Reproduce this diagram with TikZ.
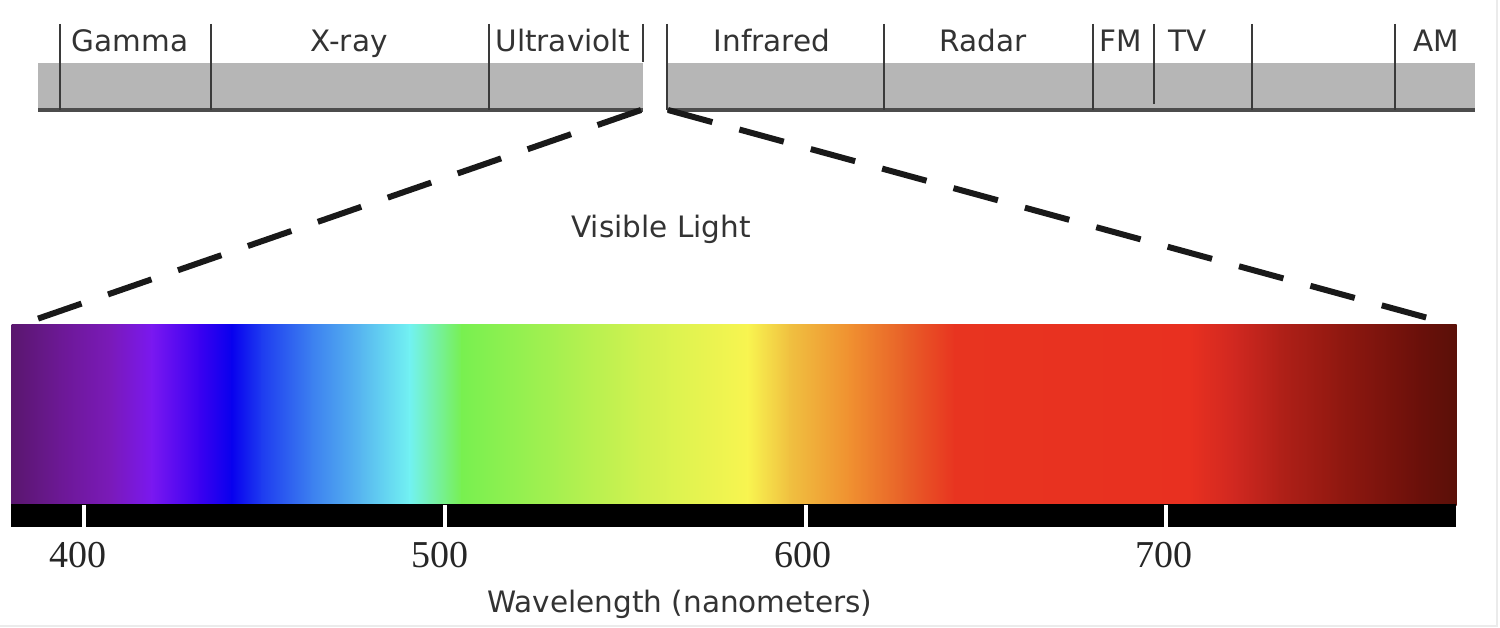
\documentclass[tikz,border=0pt]{standalone}
\usepackage{fontspec}
\setmainfont{DejaVu Sans}
\newfontfamily\numfont{Liberation Serif}
\definecolor{bargray}{HTML}{B6B6B6}
\definecolor{divgray}{HTML}{3A3A3A}
\definecolor{txtgray}{HTML}{333333}
\definecolor{s01}{HTML}{5A176E}
\definecolor{s02}{HTML}{6C1895}
\definecolor{s03}{HTML}{7A1AB8}
\definecolor{s04}{HTML}{7A18F0}
\definecolor{s05}{HTML}{3A00F0}
\definecolor{s06}{HTML}{0800EE}
\definecolor{s07}{HTML}{1E3CF0}
\definecolor{s08}{HTML}{3C80F0}
\definecolor{s09}{HTML}{58B8F0}
\definecolor{s10}{HTML}{72F2F2}
\definecolor{s11}{HTML}{78F050}
\definecolor{s12}{HTML}{A8F050}
\definecolor{s13}{HTML}{D0F250}
\definecolor{s14}{HTML}{F8F450}
\definecolor{s15}{HTML}{F0C040}
\definecolor{s16}{HTML}{F09030}
\definecolor{s17}{HTML}{E86028}
\definecolor{s18}{HTML}{E83420}
\definecolor{s19}{HTML}{E83020}
\definecolor{s20}{HTML}{D02820}
\definecolor{s21}{HTML}{B02018}
\definecolor{s22}{HTML}{901810}
\definecolor{s23}{HTML}{6A100A}
\definecolor{s24}{HTML}{5A1008}
\begin{document}
\begin{tikzpicture}[x=1pt,y=-1pt,
  bandlabel/.style={anchor=base,text=txtgray,font=\fontsize{29.5}{35}\selectfont,inner sep=0pt},
  numlabel/.style={anchor=base,text=black!85,font=\numfont\fontsize{38}{44}\selectfont,inner sep=0pt},
  divider/.style={draw=divgray,line width=2.5pt},
  zoomline/.style={line width=6pt,dash pattern=on 46pt off 28pt,black!90},
  tick/.style={draw=white,line width=3.5pt}]
\useasboundingbox (0,0) rectangle (1500,628);
\fill[white] (0,0) rectangle (1500,628);
\draw[black!8,line width=2pt] (1497,0) -- (1497,626) -- (0,626);
% top bar
\fill[bargray] (38,63) rectangle (643,110);
\fill[bargray] (667,63) rectangle (1475,110);
\draw[black!70,line width=3.5pt] (38,110) -- (643,110);
\draw[black!70,line width=3.5pt] (667,110) -- (1475,110);
\foreach \x in {60,211,489,667,884,1093,1252,1395}
  \draw[divider] (\x,24) -- (\x,110);
\draw[divider] (643,24) -- (643,62);
\draw[divider] (1154,24) -- (1154,104);
% band labels
\node[bandlabel] (gamma) at (130,52) {Gamma};
\node[bandlabel] (xray) at (349,52) {X-ray};
\node[bandlabel] (uv) at (563,52) {Ultraviolt};
\node[bandlabel] (ir) at (772,52) {Infrared};
\node[bandlabel] (radar) at (983,52) {Radar};
\node[bandlabel] (fm) at (1121,52) {FM};
\node[bandlabel] (tv) at (1188,52) {TV};
\node[bandlabel] (am) at (1436,52) {AM};
% zoom lines
\coordinate (zl) at (641,110);
\coordinate (zr) at (668,110);
\coordinate (sl) at (37,319);
\coordinate (sr) at (1428,318);
\draw[zoomline] (zl) -- (sl);
\draw[zoomline] (zr) -- (sr);
\node[bandlabel] (vis) at (661,238) {Visible Light};
% spectrum
\def\stops{12/s01/60/s02,60/s02/110/s03,110/s03/152/s04,152/s04/200/s05,200/s05/232/s06,232/s06/262/s07,262/s07/312/s08,312/s08/362/s09,362/s09/410/s10,410/s10/462/s11,462/s11/560/s12,560/s12/640/s13,640/s13/748/s14,748/s14/790/s15,790/s15/850/s16,850/s16/905/s17,905/s17/955/s18,955/s18/1190/s19,1190/s19/1235/s20,1235/s20/1280/s21,1280/s21/1340/s22,1340/s22/1420/s23,1420/s23/1456/s24}
\foreach \a/\ca/\b/\cb in \stops
  \shade[left color=\ca,right color=\cb] (\a-0.5,325) rectangle (\b+0.5,505);
\fill[black] (11,504) rectangle (1456,527);
\foreach \x in {84,445,806,1166}
  \draw[tick] (\x,505) -- (\x,527);
\node[numlabel] (n400) at (78,567) {400};
\node[numlabel] (n500) at (440,567) {500};
\node[numlabel] (n600) at (803,567) {600};
\node[numlabel] (n700) at (1164,567) {700};
\node[bandlabel] (wl) at (680,612) {Wavelength (nanometers)};
\end{tikzpicture}
\end{document}
